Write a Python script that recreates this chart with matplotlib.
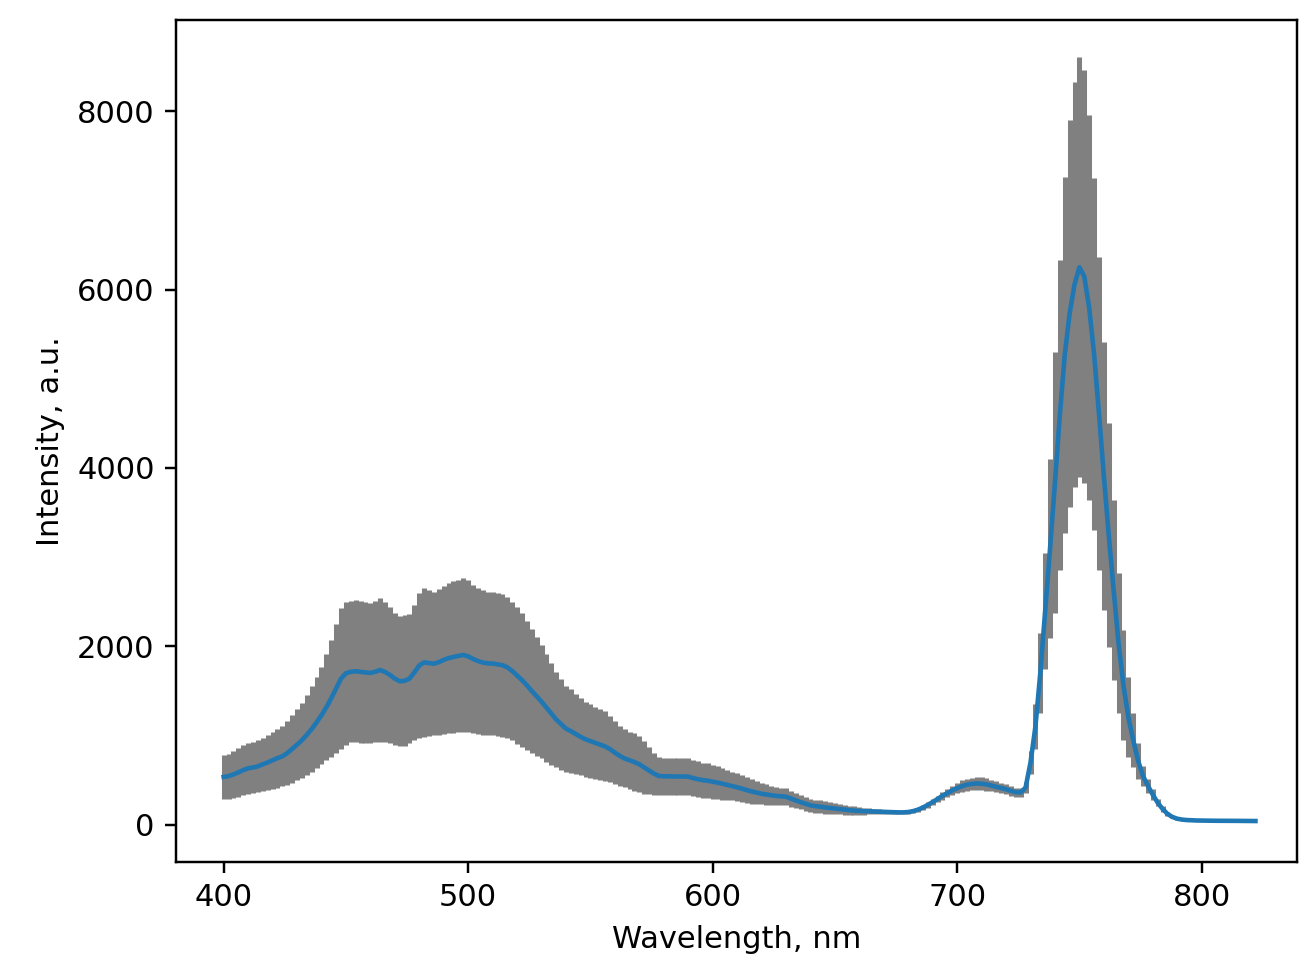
import numpy as np
import matplotlib
matplotlib.use("Agg")
import matplotlib.pyplot as plt

# Wavelength grid (nm), 2 nm step
wavelength = np.arange(400, 823, 2)

# Mean intensity (a.u.)
mean_intensity = [
    538, 547, 567, 589, 615, 635, 644, 657, 680, 701,
    725, 749, 770, 805, 852, 900, 950, 1010, 1075, 1150,
    1230, 1320, 1420, 1530, 1640, 1700, 1717, 1722, 1715, 1709,
    1704, 1717, 1736, 1715, 1681, 1640, 1610, 1615, 1640, 1710,
    1787, 1822, 1815, 1807, 1824, 1850, 1870, 1882, 1895, 1904,
    1890, 1860, 1837, 1820, 1811, 1809, 1800, 1790, 1767, 1725,
    1675, 1624, 1565, 1502, 1442, 1382, 1315, 1247, 1182, 1130,
    1079, 1052, 1020, 987, 960, 940, 920, 900, 880, 850,
    810, 775, 745, 725, 705, 680, 645, 610, 575, 549,
    545, 544, 544, 543, 543, 541, 525, 512, 502, 495,
    485, 475, 462, 450, 437, 422, 407, 390, 375, 362,
    350, 341, 333, 326, 321, 316, 295, 275, 255, 237,
    220, 211, 205, 196, 190, 183, 177, 171, 165, 160,
    157, 155, 153, 150, 148, 147, 145, 143, 141, 141,
    145, 155, 172, 195, 225, 257, 292, 327, 357, 387,
    412, 435, 452, 460, 465, 462, 455, 442, 427, 415,
    400, 382, 367, 365, 420, 700, 1100, 1700, 2400, 3100,
    3837, 4593, 5266, 5731, 6056, 6250, 6145, 5795, 5277, 4611,
    3910, 3247, 2633, 2039, 1568, 1210, 952, 720, 550, 440,
    340, 250, 180, 125, 90, 70, 60, 55, 52, 50,
    49, 48, 48, 47, 47, 46, 46, 46, 45, 45,
    45, 44,
]

# Error (standard deviation, a.u.)
err_intensity = [
    247, 252, 262, 271, 280, 285, 286, 292, 300, 309,
    320, 331, 337, 355, 378, 400, 422, 445, 480, 512,
    543, 597, 655, 720, 790, 800, 792, 797, 795, 791,
    786, 792, 806, 785, 761, 740, 730, 735, 726, 755,
    812, 832, 815, 802, 816, 830, 840, 847, 855, 862,
    850, 830, 817, 810, 803, 801, 800, 800, 787, 775,
    765, 750, 725, 697, 667, 637, 605, 572, 537, 510,
    481, 467, 450, 432, 420, 412, 402, 397, 392, 372,
    350, 335, 325, 320, 320, 315, 295, 265, 235, 213,
    210, 208, 208, 207, 207, 207, 205, 202, 197, 195,
    190, 185, 177, 170, 162, 157, 152, 145, 135, 127,
    120, 113, 107, 101, 97, 94, 90, 85, 80, 77,
    75, 74, 73, 68, 65, 61, 57, 54, 50, 47,
    45, 40, 35, 30, 27, 23, 21, 20, 19, 19,
    20, 20, 22, 25, 30, 33, 37, 42, 47, 52,
    57, 65, 67, 70, 73, 72, 70, 67, 62, 60,
    55, 52, 52, 50, 60, 130, 250, 450, 650, 1000,
    1460, 1737, 1994, 2169, 2269, 2350, 2315, 2155, 1972, 1754,
    1500, 1253, 1008, 784, 616, 448, 302, 200, 110, 80,
    60, 40, 30, 20, 15, 10, 8, 5, 4, 3,
    3, 2, 2, 2, 2, 2, 2, 2, 2, 2,
    2, 2,
]

x_ticks = [400, 500, 600, 700, 800]
y_ticks = [0, 2000, 4000, 6000, 8000]

DPI = 220
fig = plt.figure(figsize=(1299 / DPI, 961 / DPI), dpi=DPI)
ax = fig.add_axes([176 / 1299, 1 - 862 / 961, (1297 - 176) / 1299, (862 - 20) / 961])

ax.errorbar(wavelength, mean_intensity, yerr=err_intensity,
            ecolor="gray", elinewidth=1.65, color="C0", linewidth=1.5)

ax.set_xlim(380.5, 839)
ax.set_ylim(-415, 9020)
ax.set_xticks(x_ticks)
ax.set_yticks(y_ticks)
ax.set_xlabel("Wavelength, nm")
ax.set_ylabel("Intensity, a.u.")

fig.savefig("out.png", dpi=DPI)
